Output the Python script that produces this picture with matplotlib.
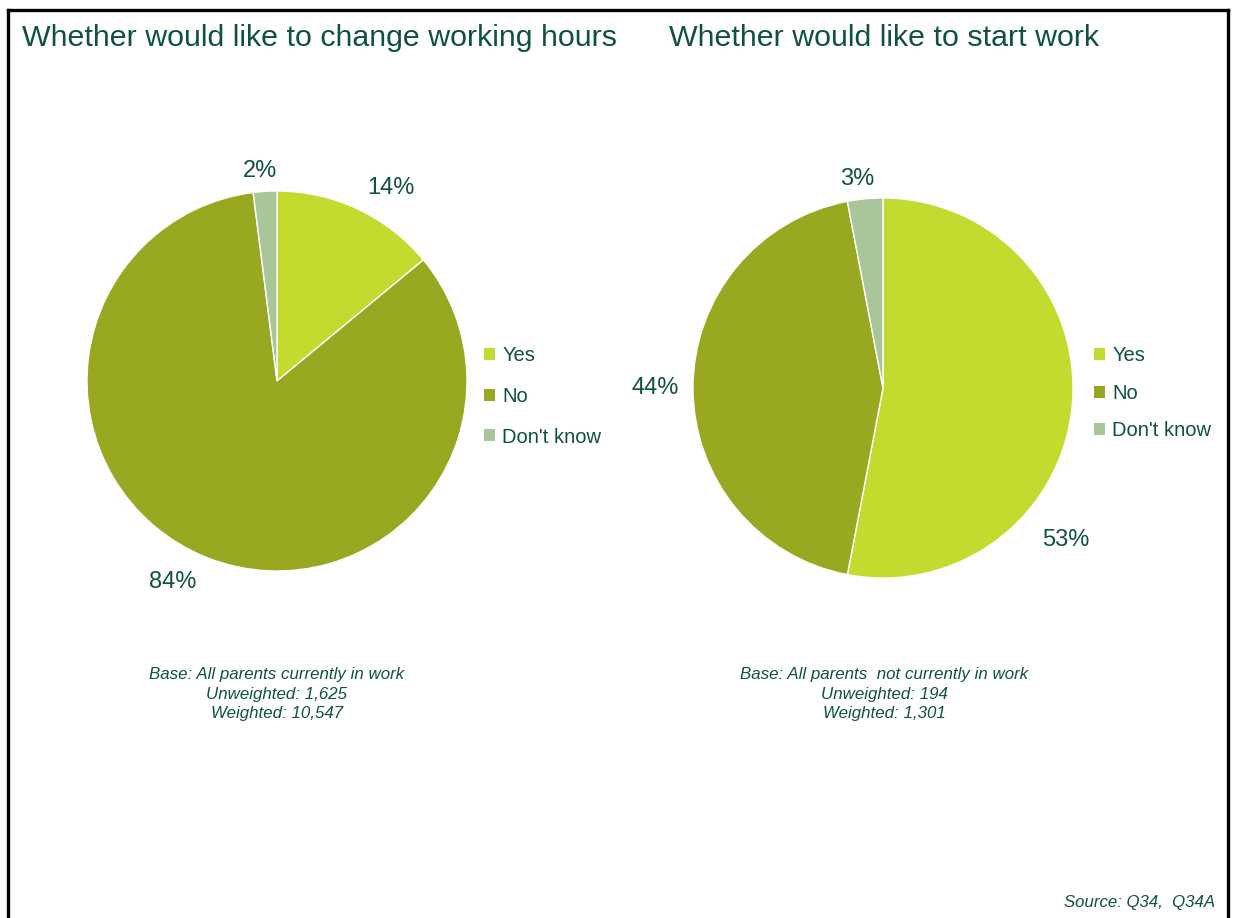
import matplotlib
matplotlib.use("Agg")
import matplotlib.pyplot as plt
from matplotlib.lines import Line2D
from matplotlib.patches import Patch
import numpy as np

plt.rcParams['font.family'] = ['Liberation Sans', 'DejaVu Sans']

# Data
categories = ["Yes", "No", "Don't know"]
change_hours = [14, 84, 2]
start_work = [53, 44, 3]
titles = ["Whether would like to change working hours", "Whether would like to start work"]
base_notes = [
    "Base: All parents currently in work\nUnweighted: 1,625\nWeighted: 10,547",
    "Base: All parents  not currently in work\nUnweighted: 194\nWeighted: 1,301",
]
source_note = "Source: Q34,  Q34A"

# Styling
colors = ["#C3DB2F", "#98A820", "#A9C69B"]
text_color = "#0F5142"
W, H = 1234, 918

fig = plt.figure(figsize=(W / 100, H / 100), dpi=100)
fig.patch.set_facecolor("white")

# Outer frame (open at the bottom)
frame_kw = dict(color="black", lw=2.4, transform=fig.transFigure, solid_capstyle="projecting")
fig.add_artist(Line2D([8 / W, 8 / W], [0, 1 - 10 / H], **frame_kw))
fig.add_artist(Line2D([8 / W, 1228 / W], [1 - 10 / H, 1 - 10 / H], **frame_kw))
fig.add_artist(Line2D([1228 / W, 1228 / W], [1 - 10 / H, 0], **frame_kw))


def pie_axes(cx, cy, r):
    return fig.add_axes([(cx - r) / W, 1 - (cy + r) / H, 2 * r / W, 2 * r / H])


# Label placement per slice: (angle in degrees, distance in radii)
label_pos = [
    [(59.6, 1.18), (242.5, 1.19), (94.6, 1.11)],
    [(-39.7, 1.25), (180.0, 1.20), (97.0, 1.11)],
]
centers = [(277, 381), (883, 388)]
legend_anchor = [(484, 346), (1094, 346)]
legend_spacing = [1.08, 0.93]
series = [change_hours, start_work]

for i, vals in enumerate(series):
    cx, cy = centers[i]
    ax = pie_axes(cx, cy, 190)
    wedges, _ = ax.pie(vals, colors=colors, startangle=90, counterclock=False,
                       wedgeprops=dict(edgecolor="white", linewidth=1.0))
    ax.set_xlim(-1, 1)
    ax.set_ylim(-1, 1)
    ax.set_aspect("equal")
    ax.axis("off")
    for v, (ang, dist) in zip(vals, label_pos[i]):
        a = np.deg2rad(ang)
        ax.text(dist * np.cos(a), dist * np.sin(a), f"{v}%", ha="center", va="center",
                fontsize=17, color=text_color, clip_on=False)

    handles = [Patch(facecolor=c, edgecolor="none") for c in colors]
    lx, ly = legend_anchor[i]
    fig.legend(handles, categories, loc="upper left",
               bbox_to_anchor=(lx / W, 1 - ly / H), frameon=False,
               fontsize=14.5, labelcolor=text_color, handlelength=0.55, handleheight=0.55,
               handletextpad=0.35, labelspacing=legend_spacing[i], borderpad=0, borderaxespad=0)

# Titles
fig.text(22 / W, 1 - 38 / H, titles[0], fontsize=21.9, color=text_color, va="center", ha="left")
fig.text(669 / W, 1 - 38 / H, titles[1], fontsize=21.9, color=text_color, va="center", ha="left")

# Base notes
fig.text(277 / W, 1 - 694 / H, base_notes[0], fontsize=12.2, style="italic", color=text_color,
         ha="center", va="center", linespacing=1.35)
fig.text(884 / W, 1 - 694 / H, base_notes[1], fontsize=12.2, style="italic", color=text_color,
         ha="center", va="center", linespacing=1.35)

# Source
fig.text(1215 / W, 1 - 903 / H, source_note, fontsize=12.1, style="italic", color=text_color,
         ha="right", va="center")

fig.savefig("out.png", dpi=100, facecolor="white")
